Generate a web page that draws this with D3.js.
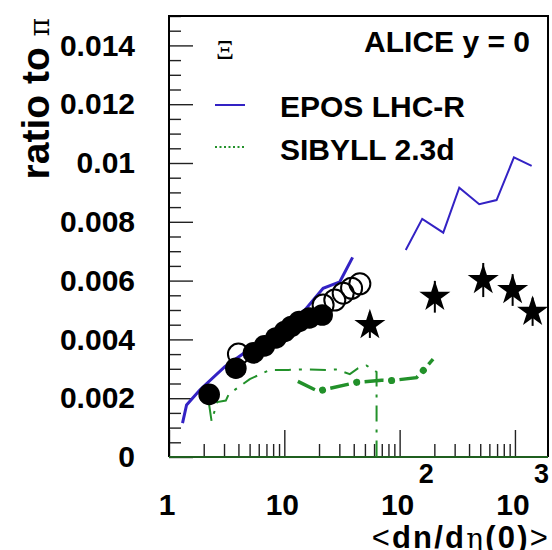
<!DOCTYPE html>
<html>
<head>
<meta charset="utf-8">
<script src="https://cdn.jsdelivr.net/npm/d3@7"></script>
<style>
  body { margin: 0; background: #fff; }
  text { font-family: "Liberation Sans", Arial, sans-serif; }
</style>
</head>
<body>
<div id="chart"></div>
<script>
// ALICE data, filled circles
var ppX = [2.23, 3.80, 5.40, 6.72, 8.45, 10.08, 11.51, 13.46, 16.51, 21.29];
var ppY = [0.00213, 0.00302, 0.00354, 0.00378, 0.00405, 0.00427, 0.00444, 0.00461, 0.00473, 0.00483];
// open circles
var pPbX = [4.0, 21.7, 27.4, 32.4, 38.3, 45.2];
var pPbY = [0.00350, 0.00517, 0.00534, 0.00557, 0.00574, 0.00589];
// stars
var aaX = [55.2, 202, 531, 955, 1423];
var aaY = [0.00449, 0.00545, 0.00602, 0.00568, 0.00494];
var aaErr = [0.00044, 0.00054, 0.00058, 0.00054, 0.00048];

// EPOS LHC-R
var eposX1 = [1.31, 1.42, 1.85, 3.05, 15.1, 21.7, 30.3, 39.1];
var eposY1 = [0.00115, 0.00177, 0.00228, 0.00307, 0.00500, 0.00574, 0.00596, 0.00679];
var eposX2 = [113, 157, 239, 329, 490, 693, 980, 1396];
var eposY2 = [0.00704, 0.00810, 0.00763, 0.00916, 0.00860, 0.00874, 0.01019, 0.00990];

// SIBYLL 2.3d
var sibX1 = [2.23, 2.34, 2.62, 3.11, 3.30, 5.02, 7.49, 10.8, 13.6, 23.2, 28.0, 37.0, 43.7, 51.7, 63.1, 63.1];
var sibY1 = [0.00177, 0.00122, 0.00187, 0.00192, 0.00214, 0.00265, 0.00296, 0.00296, 0.00298, 0.00296, 0.00298, 0.00282, 0.00302, 0.00311, 0.00289, 0];
var sibX2 = [13.1, 19.5, 42.4, 69.7, 85, 140, 160, 195];
var sibY2 = [0.00257, 0.00224, 0.00254, 0.00261, 0.00260, 0.00270, 0.00294, 0.00333];

var yMajor = [0, 0.002, 0.004, 0.006, 0.008, 0.01, 0.012, 0.014];
var yLabels = ["0", "0.002", "0.004", "0.006", "0.008", "0.01", "0.012", "0.014"];
var xMajor = [1, 10, 100, 1000];
var xLabels = [["1", ""], ["10", ""], ["10", "2"], ["10", "3"]];

var blue = "#3322c4";
var green = "#22912a";

var width = 552, height = 550;
var L = 169, R = 548, T = 16, B = 457;

var svg = d3.select("#chart").append("svg")
  .attr("width", width)
  .attr("height", height);

var x = d3.scaleLog().domain([1, 1935]).range([L, R]);
var y = d3.scaleLinear().domain([0, 0.015]).range([B, T]);

function pts(xs, ys) {
  return xs.map(function(v, i) { return [v, ys[i]]; });
}
var line = d3.line()
  .x(function(d) { return x(d[0]); })
  .y(function(d) { return y(d[1]); });

// ticks
var xMinor = x.ticks().filter(function(v) { return xMajor.indexOf(v) < 0; });
var yMinor = d3.range(0, 0.0151, 0.0005).filter(function(v) {
  return Math.abs(v / 0.002 - Math.round(v / 0.002)) > 0.01;
});

var gx = svg.append("g").attr("transform", "translate(0," + B + ")");
gx.call(d3.axisBottom(x).tickValues(xMinor).tickSize(-13).tickFormat(""));
gx.append("g").call(d3.axisBottom(x).tickValues(xMajor).tickSize(-27).tickFormat(""));
var gy = svg.append("g").attr("transform", "translate(" + L + ",0)");
gy.call(d3.axisLeft(y).tickValues(yMinor).tickSize(-12).tickFormat(""));
gy.append("g").call(d3.axisLeft(y).tickValues(yMajor).tickSize(-24).tickPadding(34)
  .tickFormat(function(d, i) { return yLabels[i]; }));
svg.selectAll(".domain").remove();
svg.selectAll(".tick line").attr("stroke", "#222").attr("stroke-width", 1.4);
gy.selectAll(".tick text")
  .attr("font-size", 30).attr("font-weight", "bold").attr("fill", "#000")
  .style("font-family", "'Liberation Sans', Arial, sans-serif");

// x labels
var xl = svg.append("g").selectAll("g").data(xMajor).enter().append("g");
xl.append("text")
  .attr("x", function(d) { return x(d) - 2; })
  .attr("y", 515)
  .attr("text-anchor", "middle")
  .attr("font-size", 30).attr("font-weight", "bold")
  .text(function(d, i) { return xLabels[i][0]; });
xl.append("text")
  .attr("x", function(d) { return x(d) + 19; })
  .attr("y", 483)
  .attr("font-size", 27).attr("font-weight", "bold")
  .text(function(d, i) { return xLabels[i][1]; });

// frame
svg.append("path")
  .attr("d", "M" + L + "," + B + "V" + T + "H" + R + "V" + B)
  .attr("fill", "none").attr("stroke", "#000").attr("stroke-width", 2);
svg.append("line")
  .attr("x1", L).attr("x2", R).attr("y1", B).attr("y2", B)
  .attr("stroke", "#1f5f1f").attr("stroke-width", 2.2);

// SIBYLL lines
svg.append("path").datum(pts(sibX1, sibY1))
  .attr("d", line).attr("fill", "none")
  .attr("stroke", green).attr("stroke-width", 2)
  .attr("stroke-dasharray", "16,8,3,8");
var thick = pts(sibX2, sibY2);
svg.append("path").datum(thick)
  .attr("d", line).attr("fill", "none")
  .attr("stroke", green).attr("stroke-width", 3.5)
  .attr("stroke-dasharray", "19,16");
svg.append("path").datum(thick)
  .attr("d", line).attr("fill", "none")
  .attr("stroke", green).attr("stroke-width", 7)
  .attr("stroke-linecap", "round")
  .attr("stroke-dasharray", "0.1,34.9")
  .attr("stroke-dashoffset", 8);

// EPOS lines
svg.append("path").datum(pts(eposX1, eposY1))
  .attr("d", line).attr("fill", "none")
  .attr("stroke", blue).attr("stroke-width", 3);
svg.append("path").datum(pts(eposX2, eposY2))
  .attr("d", line).attr("fill", "none")
  .attr("stroke", blue).attr("stroke-width", 2);

// data
svg.append("g").selectAll("circle").data(pts(pPbX, pPbY)).enter().append("circle")
  .attr("cx", function(d) { return x(d[0]); })
  .attr("cy", function(d) { return y(d[1]); })
  .attr("r", 10.5)
  .attr("fill", "none").attr("stroke", "#000").attr("stroke-width", 2);
svg.append("g").selectAll("circle").data(pts(ppX, ppY)).enter().append("circle")
  .attr("cx", function(d) { return x(d[0]); })
  .attr("cy", function(d) { return y(d[1]); })
  .attr("r", 10.8)
  .attr("fill", "#000");
var star = svg.append("g").selectAll("g").data(pts(aaX, aaY)).enter().append("g");
star.append("line")
  .attr("x1", function(d) { return x(d[0]); })
  .attr("x2", function(d) { return x(d[0]); })
  .attr("y1", function(d, i) { return y(d[1] + aaErr[i]); })
  .attr("y2", function(d, i) { return y(d[1] - aaErr[i]); })
  .attr("stroke", "#000").attr("stroke-width", 2);
star.append("path")
  .attr("transform", function(d) { return "translate(" + x(d[0]) + "," + y(d[1]) + ")"; })
  .attr("d", d3.symbol().type(d3.symbolStar).size(300))
  .attr("fill", "#000");

// legend
svg.append("text").attr("x", 225).attr("y", 59).attr("text-anchor", "middle")
  .attr("font-size", 28).style("font-family", "'Liberation Serif', serif").text("Ξ");
svg.append("text").attr("x", 530).attr("y", 52).attr("text-anchor", "end")
  .attr("font-size", 30).attr("font-weight", "bold").text("ALICE y = 0");
svg.append("line").attr("x1", 215).attr("x2", 245).attr("y1", 105).attr("y2", 105)
  .attr("stroke", blue).attr("stroke-width", 2);
svg.append("text").attr("x", 280).attr("y", 117)
  .attr("font-size", 30).attr("font-weight", "bold").text("EPOS LHC-R");
svg.append("line").attr("x1", 215).attr("x2", 245).attr("y1", 147).attr("y2", 147)
  .attr("stroke", green).attr("stroke-width", 2).attr("stroke-dasharray", "2,2.5");
svg.append("text").attr("x", 280).attr("y", 160)
  .attr("font-size", 30).attr("font-weight", "bold").text("SIBYLL 2.3d");

// axis titles
var xt = svg.append("text").attr("x", R + 2).attr("y", 548).attr("text-anchor", "end")
  .attr("font-size", 31).attr("letter-spacing", 2.2);
xt.append("tspan").text("<");
xt.append("tspan").attr("font-weight", "bold").text("dn/d");
xt.append("tspan").style("font-family", "'DejaVu Serif', serif").attr("font-size", 28).text("η");
xt.append("tspan").attr("font-weight", "bold").text("(0)");
xt.append("tspan").text(">");

var yt = svg.append("text").attr("transform", "translate(49,18) rotate(-90)")
  .attr("text-anchor", "end").attr("font-size", 39);
yt.append("tspan").attr("font-weight", "bold").text("ratio to ");
yt.append("tspan").style("font-family", "'DejaVu Serif', serif").attr("font-size", 28).text("π");
</script>
</body>
</html>
